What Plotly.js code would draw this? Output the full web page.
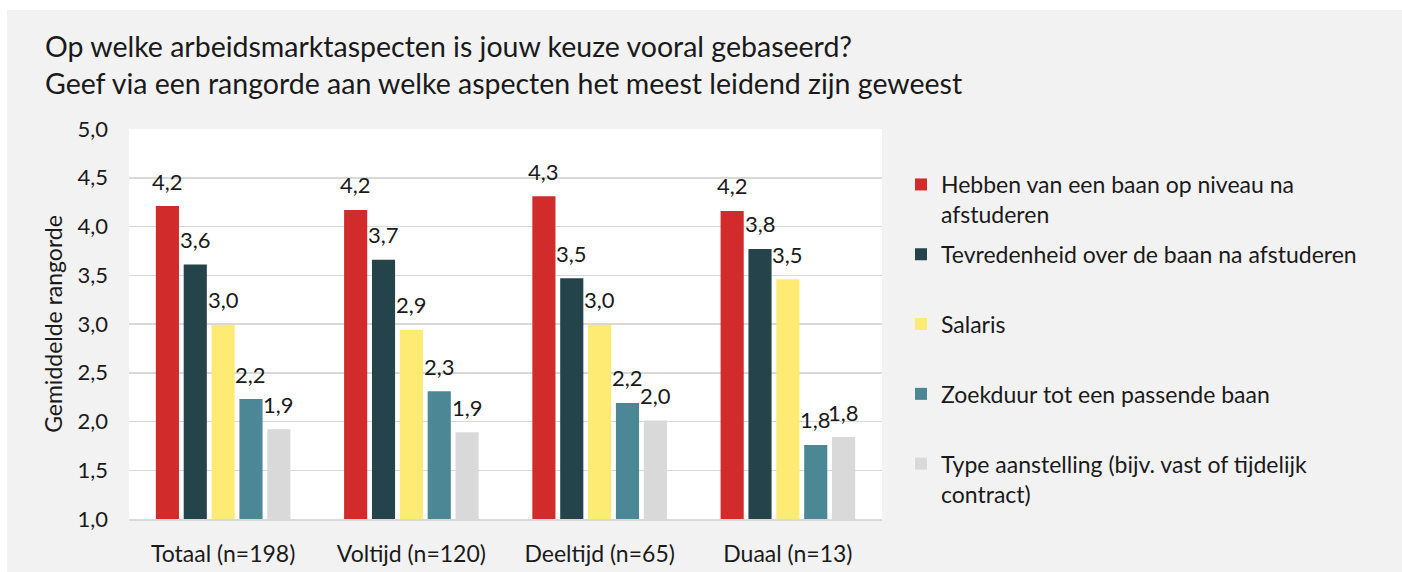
<!DOCTYPE html>
<html>
<head>
<meta charset="utf-8">
<script src="https://cdn.plot.ly/plotly-3.0.1.min.js"></script>
<style>
  html, body { margin: 0; padding: 0; background: #ffffff; }
  #chart { position: absolute; left: 7px; top: 10px; width: 1395px; height: 562px; }
</style>
</head>
<body>
<div id="chart"></div>
<script>
// ---- data ----
const categories = ["Totaal (n=198)", "Voltijd (n=120)", "Deeltijd (n=65)", "Duaal (n=13)"];
const seriesNames = [
  "Hebben van een baan op niveau na<br>afstuderen",
  "Tevredenheid over de baan na afstuderen<br> ",
  "Salaris<br> ",
  "Zoekduur tot een passende baan<br> ",
  "Type aanstelling (bijv. vast of tijdelijk<br>contract)"
];
const niveau       = [4.21, 4.17, 4.31, 4.16];
const tevredenheid = [3.61, 3.66, 3.47, 3.77];
const salaris      = [2.99, 2.94, 2.99, 3.46];
const zoekduur     = [2.23, 2.31, 2.19, 1.76];
const aanstelling  = [1.92, 1.89, 2.01, 1.84];
const seriesValues = [niveau, tevredenheid, salaris, zoekduur, aanstelling];
const colors = ["#d22b2b", "#25434a", "#fdeb73", "#4b8794", "#d9d9d9"];

// ---- layout constants ----
const W = 1395, H = 562;
const M = { l: 122, r: 520, t: 119, b: 53 };
const plotW = W - M.l - M.r;
const BARGAP = 0.26, GROUPGAP = 0.17;
const slot = plotW / categories.length * (1 - BARGAP) / seriesValues.length;
const FONT = "Lato, 'Open Sans', sans-serif";
const TXT = "#1a1a1a";

const traces = seriesValues.map((vals, i) => ({
  type: "bar",
  name: seriesNames[i],
  x: categories,
  y: vals,
  marker: { color: colors[i], line: { width: 0 } },
  legendgroup: "g" + i,
  hoverinfo: "skip"
}));

const fmt = v => v.toFixed(1).replace(".", ",");
const annotations = [];
seriesValues.forEach((vals, i) => {
  vals.forEach((v, j) => {
    annotations.push({
      x: categories[j], y: v, xref: "x", yref: "y",
      text: fmt(v), showarrow: false,
      xshift: (i - (seriesValues.length - 1) / 2) * slot,
      yshift: 25, yanchor: "middle", xanchor: "center",
      font: { family: FONT, size: 22, color: TXT }
    });
  });
});

const layout = {
  width: W, height: H,
  margin: M,
  paper_bgcolor: "#f2f2f2",
  plot_bgcolor: "#ffffff",
  separators: ",.",
  font: { family: FONT, color: TXT },
  title: {
    text: "Op welke arbeidsmarktaspecten is jouw keuze vooral gebaseerd?<br>Geef via een rangorde aan welke aspecten het meest leidend zijn geweest",
    x: 38 / W, xanchor: "left", xref: "container",
    y: 1 - 47 / H, yanchor: "top", yref: "container",
    font: { family: FONT, size: 28.5, color: TXT }
  },
  barmode: "group",
  bargap: BARGAP,
  bargroupgap: GROUPGAP,
  showlegend: true,
  legend: {
    x: (894 - M.l) / plotW, xanchor: "left",
    y: 1 - (153 - M.t) / (H - M.t - M.b), yanchor: "top",
    bgcolor: "rgba(0,0,0,0)",
    font: { family: FONT, size: 23, color: TXT },
    valign: "top",
    tracegroupgap: 7,
    traceorder: "grouped"
  },
  xaxis: {
    type: "category",
    showgrid: false,
    showline: true, linecolor: "#d9d9d9", linewidth: 2,
    ticks: "", ticklabelstandoff: 13,
    tickfont: { family: FONT, size: 23, color: TXT },
    fixedrange: true
  },
  yaxis: {
    range: [1, 5], dtick: 0.5, tick0: 1,
    tickformat: ".1f",
    showgrid: true, gridcolor: "#d9d9d9", gridwidth: 1.5,
    zeroline: false, showline: false,
    ticks: "", ticklabelstandoff: 20,
    tickfont: { family: FONT, size: 22, color: TXT },
    title: { text: "Gemiddelde rangorde", standoff: 8, font: { family: FONT, size: 23, color: TXT } },
    fixedrange: true
  },
  annotations: annotations
};

Plotly.newPlot("chart", traces, layout, { displayModeBar: false, staticPlot: true });
</script>
</body>
</html>
